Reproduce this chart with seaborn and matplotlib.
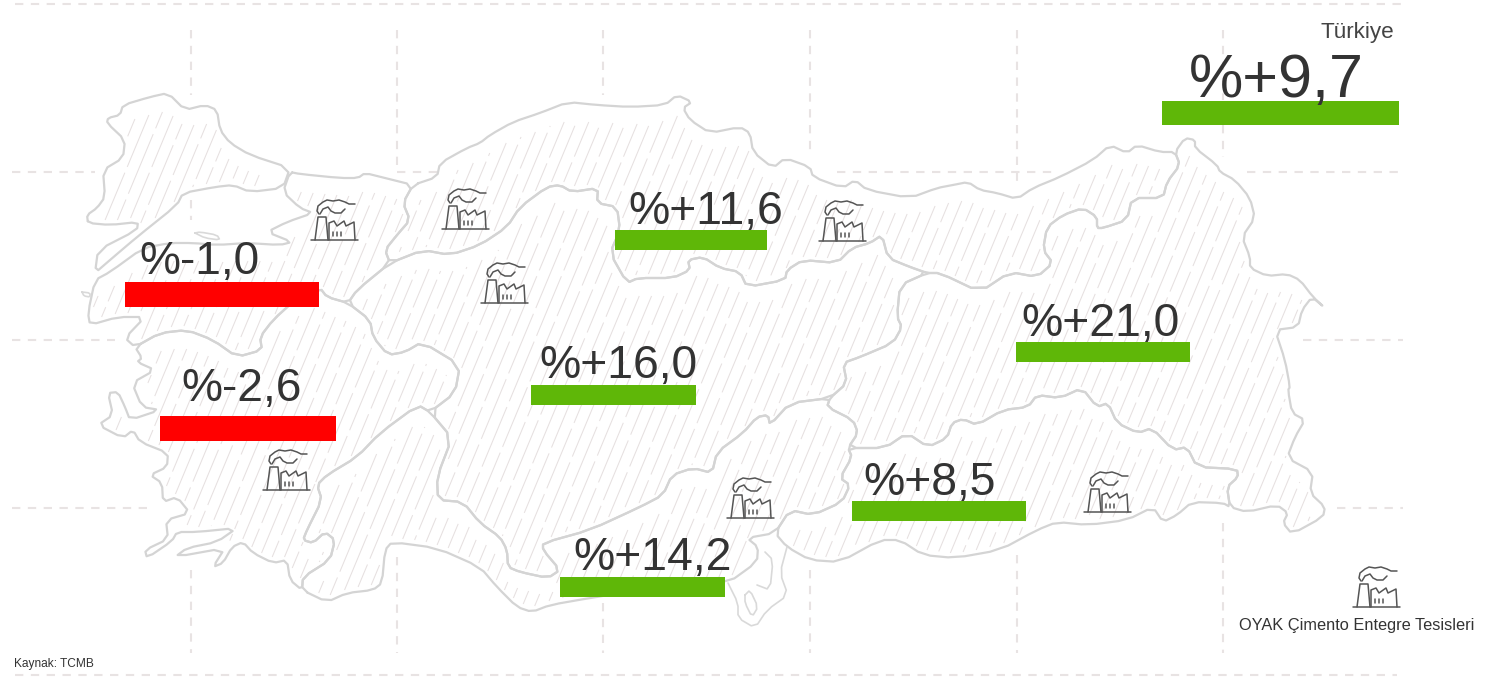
import numpy as np
import pandas as pd
import matplotlib
matplotlib.use("Agg")
import matplotlib.pyplot as plt
from matplotlib.path import Path
from matplotlib.collections import LineCollection
from matplotlib.patches import Polygon
import seaborn as sns

# ---- chart content ----
value_labels = ["%-1,0", "%-2,6", "%+11,6", "%+16,0", "%+21,0", "%+8,5", "%+14,2", "%+9,7"]
bar_colors = ["#FF0000", "#FF0000", "#5FB708", "#5FB708", "#5FB708", "#5FB708", "#5FB708", "#5FB708"]
bar_left = [125, 160, 615, 531, 1016, 852, 560, 1162]
bar_width = [194, 176, 152, 165, 174, 174, 165, 237]
bar_top = [282, 416, 230, 385, 342, 501, 577, 101]
bar_height = [25, 25, 20, 20, 20, 20, 20, 24]
label_x = [139, 181, 628, 539, 1021, 863, 573, 1189]
label_base = [274, 401, 224, 378, 336, 495, 570, 97]
label_size = [33.2, 33.2, 33.4, 33.4, 33.4, 33.4, 33.4, 44]

# ---- map outlines ----
thrace = [(88,223),(87,215),(97,208),(105,197),(103,170),(123,158),(125,140),(107,123),(108,118),(120,115),(123,105),(150,97),(168,93),(185,110),(205,105),(217,110),(220,130),(230,143),(250,155),(290,168),(283,188),(250,192),(233,185),(215,187),(183,193),(177,205),(137,237),(110,260),(95,273),(98,250),(137,230),(138,222),(110,225)]
marmara = [(290,172),(300,174),(340,178),(358,178),(365,173),(385,178),(413,185),(403,203),(410,220),(397,235),(385,250),(390,263),(357,290),(348,303),(327,297),(320,288),(295,300),(273,320),(260,337),(262,350),(237,357),(213,340),(187,330),(160,333),(135,347),(125,338),(145,317),(118,317),(90,325),(88,313),(95,280),(110,272),(143,248),(170,243),(193,243),(217,245),(247,243),(280,245),(292,242),(267,232),(287,222),(313,213),(300,208),(283,192)]
aegean = [(135,347),(160,333),(187,330),(213,340),(237,357),(262,350),(260,337),(273,320),(295,300),(320,288),(327,297),(348,303),(370,320),(373,337),(388,355),(405,352),(422,342),(460,365),(455,393),(430,412),(418,405),(380,433),(357,457),(327,475),(317,485),(322,500),(307,530),(303,540),(313,543),(325,532),(335,540),(330,560),(303,577),(302,590),(290,580),(287,560),(273,563),(253,553),(243,542),(232,547),(223,563),(213,567),(225,548),(175,557),(187,548),(217,542),(237,528),(197,532),(177,532),(172,541),(147,558),(145,550),(168,539),(166,520),(190,513),(177,497),(163,502),(162,483),(150,475),(167,467),(168,453),(140,442),(133,430),(123,438),(98,425),(113,415),(108,393),(118,392),(125,407),(130,420),(160,410),(142,407),(132,383),(155,370),(137,362),(142,358)]
mediterranean = [(302,590),(327,602),(347,593),(373,590),(382,583),(385,550),(392,542),(437,548),(480,567),(497,587),(517,607),(532,612),(550,605),(590,598),(640,590),(690,582),(728,583),(757,562),(758,547),(747,538),(775,533),(790,510),(813,515),(842,502),(850,485),(840,478),(852,457),(848,448),(858,433),(853,420),(827,407),(830,398),(790,403),(770,425),(768,415),(757,417),(743,433),(717,452),(712,473),(693,468),(672,475),(663,495),(640,507),(590,530),(543,543),(543,550),(560,570),(548,578),(520,572),(508,567),(507,550),(500,537),(480,523),(463,502),(438,500),(437,477),(452,438),(430,412),(418,405),(380,433),(357,457),(327,475),(317,485),(322,500),(307,530),(303,540),(313,543),(325,532),(335,540),(330,560),(303,577)]
central = [(390,263),(423,250),(450,255),(480,245),(507,227),(520,207),(547,187),(560,185),(572,192),(598,188),(597,203),(617,207),(620,230),(610,253),(627,283),(638,278),(673,278),(690,270),(688,260),(703,257),(720,268),(740,272),(747,287),(785,280),(787,270),(803,260),(837,263),(852,248),(870,243),(882,235),(888,258),(910,267),(927,273),(900,285),(897,317),(902,327),(893,343),(860,357),(843,363),(847,383),(830,398),(790,403),(770,425),(768,415),(757,417),(743,433),(717,452),(712,473),(693,468),(672,475),(663,495),(640,507),(590,530),(543,543),(543,550),(560,570),(548,578),(520,572),(508,567),(507,550),(500,537),(480,523),(463,502),(438,500),(437,477),(452,438),(430,412),(455,393),(460,365),(422,342),(405,352),(388,355),(373,337),(370,320),(348,303),(357,290)]
black_sea = [(413,185),(437,177),(440,163),(467,148),(480,143),(490,135),(513,122),(540,113),(568,102),(597,105),(630,107),(665,105),(677,95),(692,102),(683,108),(690,120),(710,133),(740,127),(750,133),(753,152),(773,168),(785,158),(810,167),(813,177),(843,188),(855,180),(867,190),(910,198),(937,188),(953,185),(968,182),(980,190),(997,193),(1017,199),(1033,188),(1060,177),(1093,160),(1110,145),(1127,153),(1137,145),(1160,152),(1175,152),(1180,165),(1167,182),(1163,198),(1132,198),(1127,220),(1103,228),(1097,228),(1097,217),(1083,208),(1063,215),(1047,227),(1043,250),(1053,263),(1037,277),(1010,272),(980,292),(940,273),(927,273),(910,267),(888,258),(882,235),(870,243),(852,248),(837,263),(803,260),(787,270),(785,280),(747,287),(740,272),(720,268),(703,257),(688,260),(690,270),(673,278),(638,278),(627,283),(610,253),(620,230),(617,207),(597,203),(598,188),(572,192),(560,185),(547,187),(520,207),(507,227),(480,245),(450,255),(423,250),(390,263),(385,250),(397,235),(410,220),(403,203)]
east = [(927,273),(940,273),(980,292),(1010,272),(1037,277),(1053,263),(1043,250),(1047,227),(1063,215),(1083,208),(1097,217),(1097,228),(1103,228),(1127,220),(1132,198),(1163,198),(1167,182),(1180,165),(1175,152),(1185,138),(1195,140),(1195,148),(1217,165),(1220,172),(1235,180),(1250,198),(1255,218),(1242,237),(1250,257),(1250,268),(1267,276),(1287,274),(1300,280),(1313,297),(1325,308),(1312,297),(1302,310),(1298,327),(1275,330),(1285,360),(1290,387),(1288,390),(1292,413),(1305,420),(1295,437),(1287,458),(1313,472),(1310,493),(1325,507),(1323,517),(1292,534),(1283,523),(1288,513),(1277,505),(1247,512),(1230,507),(1227,487),(1238,477),(1237,469),(1197,467),(1187,447),(1173,450),(1152,428),(1138,433),(1117,423),(1108,403),(1097,407),(1082,388),(1060,398),(1037,395),(1028,407),(1003,410),(977,425),(963,419),(952,423),(947,438),(928,447),(907,433),(885,448),(848,448),(858,433),(853,420),(827,407),(830,398),(847,383),(843,363),(860,357),(893,343),(902,327),(897,317),(900,285)]
southeast = [(775,533),(790,510),(813,515),(842,502),(850,485),(840,478),(852,457),(848,448),(885,448),(907,433),(928,447),(947,438),(952,423),(963,419),(977,425),(1003,410),(1028,407),(1037,395),(1060,398),(1082,388),(1097,407),(1108,403),(1117,423),(1138,433),(1152,428),(1173,450),(1187,447),(1197,467),(1237,469),(1238,477),(1227,487),(1230,507),(1223,503),(1192,502),(1177,515),(1163,522),(1153,507),(1127,520),(1088,525),(1057,522),(1037,530),(1000,550),(955,558),(923,555),(900,540),(880,540),(840,562),(810,560),(787,547)]
regions = [thrace, marmara, aegean, mediterranean, central, black_sea, east, southeast]
extra_lines = [
    [(728,583),(738,603),(738,618),(755,628),(767,610),(788,595),(780,573),(787,547)],
    [(765,552),(773,560),(770,590),(757,585)],
    [(745,595),(750,590),(758,607),(752,617),(745,603),(745,595)],
    [(195,233),(200,232),(217,235),(220,240),(205,238),(195,233)],
    [(82,292),(90,293),(90,297),(84,296),(82,292)],
]

# ---- dashed background grid: segments as (x0, y0, x1, y1) ----
grid_segments = [
    (15,4,1403,4),(15,675,1397,675),
    (12,172,95,172),(397,172,437,172),(837,172,1055,172),(1247,172,1403,172),
    (12,340,115,340),(1303,340,1403,340),(12,508,152,508),(1337,508,1403,508),
    (191,30,191,95),(191,200,191,220),(191,570,191,653),
    (397,30,397,172),(397,557,397,653),
    (603,30,603,95),(603,603,603,653),
    (810,30,810,155),(810,570,810,653),
    (1017,30,1017,188),(1017,555,1017,653),
    (1223,30,1223,100),(1223,125,1223,157),(1223,523,1223,653),
]

# ---- factory icon, one per plant ----
plant_x = [311, 442, 481, 819, 263, 727, 1084]
plant_y = [240, 229, 303, 241, 490, 518, 512]
legend_plant = (1353, 607)
icon_parts = [
    [(0,0),(47,0)],
    [(4,0),(7,-23),(15,-23),(17,0)],
    [(18,0),(18,-17),(23,-19),(26,-14),(33,-19),(35,-14),(43,-18),(44,0)],
    [(22,-4),(22,-8)],[(26,-4),(26,-8)],[(30,-4),(30,-8)],
    [(8,-26),(6,-29),(7,-34),(12,-38),(16,-40),(22,-39),(28,-40),(34,-38),(38,-36),(44,-36)],
    [(9,-26),(12,-31),(17,-33),(20,-29),(24,-27),(30,-27),(34,-31)],
]

sns.set_theme(style="white")
plt.rcParams["font.family"] = ["Liberation Sans", "DejaVu Sans"]

fig = plt.figure(figsize=(14.97, 6.77), dpi=100, facecolor="white")
ax = fig.add_axes([0, 0, 1, 1])
ax.set_xlim(0, 1497)
ax.set_ylim(677, 0)
ax.axis("off")

def soften(poly, closed=True):
    """One corner-cutting pass so the traced outlines read as curves."""
    p = np.array(poly, dtype=float)
    a = p if closed else p[:-1]
    b = np.roll(p, -1, axis=0) if closed else p[1:]
    out = np.empty((2 * len(a), 2))
    out[0::2] = 0.78 * a + 0.22 * b
    out[1::2] = 0.22 * a + 0.78 * b
    if closed:
        return out
    return np.vstack([p[0], out, p[-1]])

# diagonal hatching, inset from the region edges (more so on the upper edge)
def hatch_segments(poly):
    path = Path(np.vstack([poly, poly[:1]]), closed=True)
    segs, styles = [], []
    ys = np.arange(60, 640, 1.0)
    for i, off in enumerate(np.arange(0, 2200, 12.3)):
        xs = off - ys * 0.4167
        pts = np.column_stack([xs, ys])
        keep = path.contains_points(pts)
        for dx, dy in [(0, -17), (0, 4), (-4, 0), (4, 0)]:
            keep &= path.contains_points(pts + [dx, dy])
        idx = np.flatnonzero(keep)
        if idx.size == 0:
            continue
        for run in np.split(idx, np.flatnonzero(np.diff(idx) > 1) + 1):
            if run.size > 8:
                segs.append(pts[run[[0, -1]]])
                styles.append((float((i * 37) % 73), (62, 6)))
    return segs, styles

soft_regions = [soften(r) for r in regions]
for poly in soft_regions:
    ax.add_patch(Polygon(poly, closed=True, fc="white", ec="none", zorder=1))
for poly in soft_regions:
    segs, styles = hatch_segments(poly)
    ax.add_collection(LineCollection(segs, colors="#E6E0E0", linewidths=0.75,
                                     linestyles=styles, zorder=2))

for x0, y0, x1, y1 in grid_segments:
    ax.plot([x0, x1], [y0, y1], color="#E8E3E3", lw=1.5, ls=(0, (4, 3.6)), zorder=3)

# outlines
for poly in soft_regions:
    df = pd.DataFrame(np.vstack([poly, poly[:1]]), columns=["x", "y"])
    sns.lineplot(data=df, x="x", y="y", sort=False, estimator=None, color="#D4D4D4",
                 lw=1.6, ax=ax, zorder=4, solid_joinstyle="round")
for line in extra_lines:
    df = pd.DataFrame(soften(line, closed=False), columns=["x", "y"])
    sns.lineplot(data=df, x="x", y="y", sort=False, estimator=None, color="#D9D9D9",
                 lw=1.2, ax=ax, zorder=4)

# plant icons
for bx, by in list(zip(plant_x, plant_y)) + [legend_plant]:
    for part in icon_parts:
        arr = np.array(part, dtype=float)
        ax.plot(arr[:, 0] + bx, arr[:, 1] + by, color="#555555", lw=1.1, zorder=5,
                solid_joinstyle="round", solid_capstyle="round")

# value bars and labels
ax.barh(bar_top, bar_width, height=bar_height, left=bar_left, align="edge",
        color=bar_colors, linewidth=0, zorder=6)
for txt, x, y, fs in zip(value_labels, label_x, label_base, label_size):
    ax.text(x, y, txt, fontsize=fs, color="#333333", ha="left", va="baseline", zorder=7)

ax.text(1394, 38, "Türkiye", fontsize=16.2, color="#444444", ha="right", va="baseline", zorder=7)
ax.text(1239, 630, "OYAK Çimento Entegre Tesisleri", fontsize=11.75, color="#333333",
        ha="left", va="baseline", zorder=7)
ax.text(14, 667, "Kaynak: TCMB", fontsize=8.6, color="#333333", ha="left", va="baseline", zorder=7)

ax.set_xlim(0, 1497)
ax.set_ylim(677, 0)
ax.axis("off")
fig.savefig("out.png", dpi=100, facecolor="white")
